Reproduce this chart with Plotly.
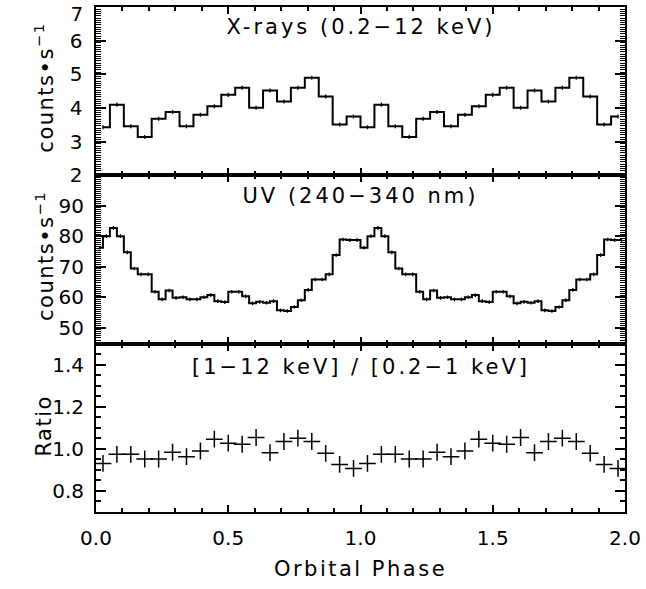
import plotly.graph_objects as go
from plotly.subplots import make_subplots

# ---------------- data ----------------
N_CYCLES = 2

# X-ray count rate, 19 phase bins per orbit
xray_rate = [3.43, 4.10, 3.46, 3.14, 3.68, 3.88, 3.46, 3.80, 4.05, 4.39,
             4.60, 4.01, 4.52, 4.19, 4.60, 4.90, 4.34, 3.51, 3.75]
xray_err = [0.06] * 19

# UV count rate, 38 phase bins per orbit
uv_rate = [76.2, 80.0, 82.7, 80.0, 74.7, 69.4, 67.5, 67.5, 61.8, 59.3,
           62.2, 59.8, 60.0, 59.3, 59.3, 60.0, 60.7, 58.7, 58.4, 61.8,
           61.8, 60.3, 58.0, 58.5, 58.2, 58.7, 55.7, 55.5, 56.8, 59.0,
           62.4, 65.8, 65.8, 67.5, 73.8, 78.9, 78.7, 78.7]
uv_err = [0.6] * 38

# hardness ratio [1-12 keV]/[0.2-1 keV], 19 phase bins per orbit
ratio = [0.931, 0.974, 0.974, 0.952, 0.952, 0.984, 0.963, 0.990, 1.046, 1.027,
         1.022, 1.054, 0.982, 1.035, 1.051, 1.035, 0.979, 0.926, 0.907]

x_title = "Orbital Phase"
panel_titles = ["X-rays (0.2\u221212 keV)", "UV (240\u2212340 nm)",
                "[1\u221212 keV] / [0.2\u22121 keV]"]
y_titles = ["counts\u2022s<sup>\u22121</sup>", "counts\u2022s<sup>\u22121</sup>", "Ratio"]

x_range = [0, 2]
y_ranges = [[2, 6.9999], [44.8, 99.9], [0.7, 1.5]]
y_major = [1, 10, 0.2]
y_minor = [1 / 15, 10 / 15, 0.05]
top_last_label = "7"


def phases(nbins):
    return [c + (i + 0.5) / nbins for c in range(N_CYCLES) for i in range(nbins)]


FONT = "DejaVu Sans"
FS = 21
TFS = 20

fig = make_subplots(rows=3, cols=1, shared_xaxes=True, vertical_spacing=0)
err_style = dict(type="data", thickness=1.3, width=0, color="black", visible=True)

fig.add_trace(go.Scatter(x=phases(len(xray_rate)), y=xray_rate * N_CYCLES, mode="lines",
                         line=dict(shape="hvh", color="black", width=2),
                         error_y=dict(array=xray_err * N_CYCLES, **err_style)), row=1, col=1)
fig.add_trace(go.Scatter(x=phases(len(uv_rate)), y=uv_rate * N_CYCLES, mode="lines",
                         line=dict(shape="hvh", color="black", width=2),
                         error_y=dict(array=uv_err * N_CYCLES, **err_style)), row=2, col=1)
fig.add_trace(go.Scatter(x=phases(len(ratio)), y=ratio * N_CYCLES, mode="markers",
                         marker=dict(symbol="cross-thin", size=12,
                                     line=dict(color="black", width=1.5))), row=3, col=1)

axis_common = dict(showline=True, linecolor="black", linewidth=2, mirror="allticks",
                   ticks="inside", tickcolor="black", showgrid=False, zeroline=False,
                   tickfont=dict(family=FONT, size=TFS, color="black"))


def minor(dt, length, width):
    return dict(ticks="inside", tickmode="linear", tick0=0, dtick=dt,
                ticklen=length, tickwidth=width, tickcolor="black")


for r in (1, 2, 3):
    fig.update_xaxes(range=x_range, dtick=0.5, tick0=0, tickformat=".1f",
                     ticklen=7, tickwidth=1.5, ticklabelstandoff=7,
                     minor=minor(0.1, 4, 1.5), **axis_common, row=r, col=1)
fig.update_xaxes(title=dict(text=x_title, font=dict(family=FONT, size=FS, color="black"),
                            standoff=12), row=3, col=1)

fig.update_yaxes(range=y_ranges[0], dtick=y_major[0], tick0=0,
                 ticklen=10, tickwidth=1.5, ticklabelstandoff=6,
                 minor=minor(y_minor[0], 5, 1.3), **axis_common, row=1, col=1)
fig.update_yaxes(range=y_ranges[1], dtick=y_major[1], tick0=0, ticklen=10, tickwidth=1.5,
                 ticklabelstandoff=6, minor=minor(y_minor[1], 5, 1.3),
                 **axis_common, row=2, col=1)
fig.update_yaxes(range=y_ranges[2], dtick=y_major[2], tick0=0, tickformat=".1f",
                 ticklen=10, tickwidth=1.5, ticklabelstandoff=6,
                 minor=minor(y_minor[2], 5, 1.5), **axis_common, row=3, col=1)

annotations = []
yrefs = ["y domain", "y2 domain", "y3 domain"]
title_shift = [-20, -21, -23]
for i in range(3):
    annotations.append(dict(text=panel_titles[i], xref="paper", yref=yrefs[i],
                            x=0.5, y=1, yshift=title_shift[i], xanchor="center", yanchor="middle",
                            showarrow=False, font=dict(family=FONT, size=FS, color="black")))
    annotations.append(dict(text=y_titles[i], xref="paper", yref=yrefs[i],
                            x=0, xshift=-52, y=0.5, yshift=(3 if i < 2 else 2),
                            xanchor="center", yanchor="middle",
                            textangle=-90, showarrow=False,
                            font=dict(family=FONT, size=FS, color="black")))
annotations.append(dict(text=top_last_label, xref="paper", yref="y domain", x=0, xshift=-9,
                        y=1, yshift=-7, xanchor="right", yanchor="middle",
                        showarrow=False, font=dict(family=FONT, size=TFS, color="black")))
fig.update_layout(annotations=annotations)
fig.update_layout(width=646, height=589, margin=dict(l=96, r=21, t=5, b=77),
                  paper_bgcolor="white", plot_bgcolor="white", showlegend=False)

css = (".annotation-text { letter-spacing: 3px; } "
       "[transform*='rotate(-90'] .annotation-text { letter-spacing: 1.5px; } "
       "text[class$='title'] { letter-spacing: 2.5px; } "
       ".xtick text, .ytick text { letter-spacing: 1.5px; }")
post = ("var s=document.createElement('style');s.textContent=" + repr(css) +
        ";document.head.appendChild(s);")
fig.write_html("out.html", post_script=post)
